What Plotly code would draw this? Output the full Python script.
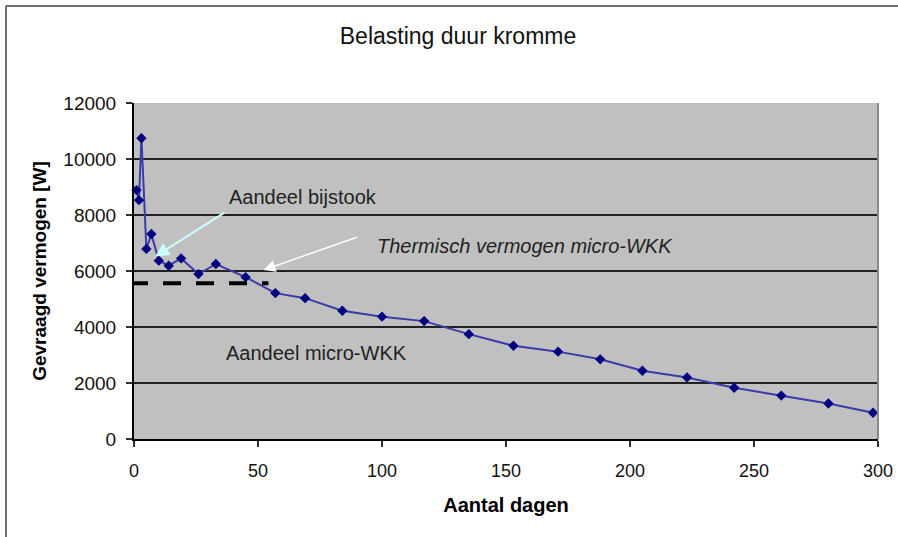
import plotly.graph_objects as go

# Data
dagen = [1, 2, 3, 5, 7, 10, 14, 19, 26, 33, 45, 57, 69, 84, 100, 117, 135,
         153, 171, 188, 205, 223, 242, 261, 280, 298]
vermogen = [8890, 8530, 10740, 6790, 7320, 6370, 6190, 6450, 5890, 6250, 5780,
            5210, 5030, 4580, 4370, 4210, 3745, 3330, 3120, 2845, 2440, 2200,
            1830, 1550, 1270, 940]

wkk_vermogen = 5560          # thermal capacity micro-WKK (dashed line)
wkk_x = [-1.6, 54.2]         # extent of the dashed line

x_ticks = [0, 50, 100, 150, 200, 250, 300]
y_ticks = [0, 2000, 4000, 6000, 8000, 10000, 12000]

FONT = "Liberation Sans, Arial, sans-serif"

fig = go.Figure()

fig.add_trace(go.Scatter(
    x=dagen, y=vermogen, mode="lines+markers",
    line=dict(color="#3a3aa8", width=2),
    marker=dict(symbol="diamond", size=8, color="#000080"),
    cliponaxis=False, showlegend=False,
))

fig.add_trace(go.Scatter(
    x=wkk_x, y=[wkk_vermogen, wkk_vermogen], mode="lines",
    line=dict(color="#000000", width=4, dash="18px,15px"),
    cliponaxis=False, showlegend=False,
))

L, R, T, B = 134, 20, 103, 98
W, H = 898, 537
pw = W - L - R
ph = H - T - B

def px_x(p):
    return (p - L) / pw

def px_y(p):
    return (H - B - p) / ph

# Outer frame (left and top edges)
fig.add_shape(type="line", xref="paper", yref="paper",
              x0=px_x(6), x1=px_x(W + 5), y0=px_y(6), y1=px_y(6),
              line=dict(color="#404040", width=1.5))
fig.add_shape(type="line", xref="paper", yref="paper",
              x0=px_x(6), x1=px_x(6), y0=px_y(6), y1=px_y(H + 5),
              line=dict(color="#404040", width=1.5))

# Arrows
fig.add_annotation(x=8.5, y=6517, ax=37.1, ay=8117, xref="x", yref="y",
                   axref="x", ayref="y", text="", showarrow=True,
                   arrowhead=2, arrowsize=1.4, arrowwidth=2, arrowcolor="#ccffff")
fig.add_annotation(x=52.2, y=6035, ax=90.5, ay=7224, xref="x", yref="y",
                   axref="x", ayref="y", text="", showarrow=True,
                   arrowhead=2, arrowsize=1.6, arrowwidth=1.5, arrowcolor="#ffffff")

# Text labels
fig.add_annotation(x=37.6, y=8642, text="Aandeel bijstook", showarrow=False,
                   xanchor="left", yanchor="middle",
                   font=dict(family=FONT, size=20, color="#222222"))
fig.add_annotation(x=97.0, y=6910, text="<i>Thermisch vermogen micro-WKK</i>",
                   showarrow=False, xanchor="left", yanchor="middle",
                   font=dict(family=FONT, size=20, color="#222222"))
fig.add_annotation(x=36.4, y=3071, text="Aandeel micro-WKK", showarrow=False,
                   xanchor="left", yanchor="middle",
                   font=dict(family=FONT, size=20, color="#222222"))

fig.update_layout(
    width=W, height=H,
    margin=dict(l=L, r=R, t=T, b=B, autoexpand=False),
    paper_bgcolor="#ffffff",
    plot_bgcolor="#c0c0c0",
    font=dict(family=FONT, color="#000000"),
    title=dict(text="Belasting duur kromme", x=458 / W, xanchor="center",
               y=1 - 36 / H, yanchor="middle",
               font=dict(family=FONT, size=23, color="#111111")),
    xaxis=dict(
        range=[0, 300], tickmode="array", tickvals=x_ticks,
        ticktext=[str(v) for v in x_ticks],
        showgrid=False, zeroline=False,
        showline=True, linecolor="#000000", linewidth=2,
        ticks="outside", ticklen=6, tickwidth=2, tickcolor="#303030",
        ticklabelstandoff=8,
        tickfont=dict(family=FONT, size=18, color="#111111"),
        title=dict(text="<b>Aantal dagen</b>", standoff=18,
                   font=dict(family=FONT, size=20, color="#000000")),
        mirror=False,
    ),
    yaxis=dict(
        range=[0, 12000], tickmode="array", tickvals=y_ticks,
        ticktext=[str(v) for v in y_ticks],
        showgrid=True, gridcolor="#202020", gridwidth=2,
        zeroline=False,
        showline=True, linecolor="#000000", linewidth=2,
        ticks="outside", ticklen=6, tickwidth=2, tickcolor="#303030",
        ticklabelstandoff=6,
        tickfont=dict(family=FONT, size=19, color="#111111"),
        title=dict(text="<b>Gevraagd vermogen [W]</b>", standoff=12,
                   font=dict(family=FONT, size=19, color="#000000")),
    ),
)

# right edge of plot area
fig.add_shape(type="line", xref="paper", yref="paper", x0=1, x1=1, y0=0, y1=1,
              line=dict(color="#8a8a8a", width=2))

fig.write_html("out.html",
               config={"displayModeBar": False},
               post_script="document.body.style.margin='0px';")
